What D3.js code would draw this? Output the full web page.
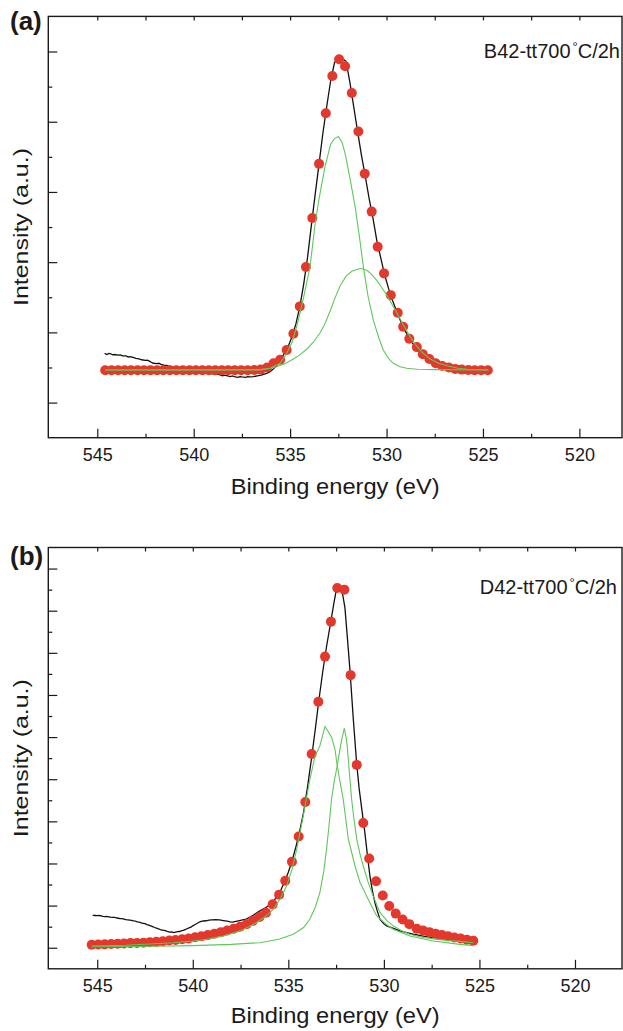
<!DOCTYPE html>
<html>
<head>
  <meta charset="utf-8">
  <title>O 1s XPS</title>
  <script src="https://cdn.jsdelivr.net/npm/d3@7"></script>
  <style>
    body { margin: 0; background: #fff; }
    svg text { font-family: "Liberation Sans", Arial, Helvetica, sans-serif; fill: #1a1a1a; }
    .axis path { display: none; }
    .axis line { stroke: #1a1a1a; stroke-width: 1.2; }
    .axis text { font-size: 18px; }
    .frame { fill: none; stroke: #1a1a1a; stroke-width: 1.4; }
    .exp { fill: none; stroke: #111; stroke-width: 1.3; }
    .comp { fill: none; stroke: #5fc85a; stroke-width: 1.1; }
    .fit { fill: #e3382b; }
  </style>
</head>
<body>
<svg id="chart" width="623" height="1031"></svg>
<script>
"use strict"

// ticks shared by both panels (binding energy, eV)
var xTicks = [545, 540, 535, 530, 525, 520];
var xMinor = [542.5, 537.5, 532.5, 527.5, 522.5];
var xTop = [545, 542.5, 540, 537.5, 535, 532.5, 530, 527.5, 525, 522.5, 520];

var yTicksA = [0, 1, 2, 3, 4, 5];
var yMinorA = [0.5, 1.5, 2.5, 3.5, 4.5];
var yTicksB = [0, 1, 2, 3, 4, 5, 6, 7, 8, 9];
var yMinorB = [0.5, 1.5, 2.5, 3.5, 4.5, 5.5, 6.5, 7.5, 8.5];

// sample labels, split round the raised degree sign
var labelA = ["B42-tt700", "°", "C/2h"];
var labelB = ["D42-tt700", "°", "C/2h"];

// (a) fitted envelope (red dots) [eV, intensity]
var fitA = [[544.59,0.46],[544.26,0.46],[543.92,0.46],[543.58,0.46],[543.25,0.46],[542.91,0.46],[542.58,0.46],
  [542.24,0.46],[541.90,0.46],[541.57,0.46],[541.23,0.46],[540.90,0.46],[540.56,0.46],[540.22,0.46],[539.89,0.46],
  [539.55,0.46],[539.22,0.46],[538.88,0.46],[538.54,0.46],[538.21,0.46],[537.87,0.46],[537.54,0.46],[537.20,0.46],
  [536.86,0.465],[536.53,0.47],[536.19,0.50],[535.86,0.56],[535.52,0.61],[535.18,0.75],[534.83,0.98],[534.50,1.37],
  [534.18,1.93],[533.85,2.63],[533.50,3.40],[533.15,4.12],[532.81,4.65],[532.46,4.89],[532.15,4.79],[531.80,4.41],
  [531.46,3.86],[531.13,3.26],[530.77,2.72],[530.46,2.22],[530.13,1.84],[529.78,1.53],[529.42,1.28],[529.14,1.08],
  [528.82,0.91],[528.43,0.79],[528.12,0.69],[527.78,0.62],[527.45,0.56],[527.11,0.52],[526.77,0.50],[526.44,0.48],
  [526.10,0.47],[525.76,0.465],[525.43,0.46],[525.09,0.46],[524.75,0.46]];

// (a) measured spectrum (black)
var expA = [[544.62,0.70],[544.5,0.685],[544.4,0.70],[544.3,0.695],[544.2,0.68],[544.1,0.685],[543.9,0.675],[543.8,0.68],
  [543.7,0.665],[543.5,0.665],[543.4,0.65],[543.3,0.655],[543.1,0.64],[543.0,0.63],[542.9,0.625],[542.8,0.62],[542.7,0.61],
  [542.5,0.60],[542.4,0.605],[542.3,0.59],[542.2,0.575],[542.1,0.56],[541.9,0.555],[541.8,0.56],[541.7,0.545],[541.5,0.53],
  [541.4,0.53],[541.3,0.52],[541.1,0.51],[541.0,0.50],[540.9,0.49],[540.7,0.485],[540.5,0.47],[540.3,0.465],[540.1,0.45],
  [540.0,0.455],[539.9,0.44],[539.7,0.43],[539.6,0.435],[539.5,0.42],[539.3,0.425],[539.2,0.41],[539.1,0.415],[538.9,0.40],
  [538.8,0.41],[538.7,0.40],[538.5,0.38],[538.4,0.39],[538.3,0.385],[538.1,0.37],[538.0,0.38],[537.9,0.37],[537.7,0.36],
  [537.6,0.37],[537.5,0.365],[537.3,0.36],[537.2,0.37],[537.1,0.365],[536.9,0.37],[536.8,0.375],[536.7,0.38],[536.5,0.39],
  [536.3,0.41],[536.1,0.43],[535.9,0.47],[535.7,0.53],[535.5,0.61],[535.3,0.70],[535.1,0.80],[534.9,0.94],[534.7,1.12],
  [534.5,1.36],[534.3,1.68],[534.1,2.06],[533.9,2.52],[533.7,2.97],[533.5,3.40],[533.3,3.84],[533.1,4.22],[532.9,4.58],
  [532.7,4.84],[532.5,4.93],[532.3,4.90],[532.1,4.86],[531.9,4.56],[531.7,4.21],[531.5,3.86],[531.3,3.52],[531.1,3.22],
  [530.9,2.90],[530.7,2.62],[530.5,2.30],[530.3,2.06],[530.1,1.82],[529.9,1.63],[529.7,1.46],[529.5,1.32],[529.3,1.18],
  [529.1,1.06],[528.9,0.95],[528.7,0.86],[528.5,0.80],[528.3,0.73],[528.1,0.67],[527.9,0.63],[527.7,0.59],[527.5,0.56],
  [527.3,0.54],[527.0,0.51],[526.7,0.49],[526.4,0.48],[526.0,0.47],[525.5,0.46],[525.0,0.46],[524.72,0.46]];

// (a) fitted components (green)
var peak1A = [[544.6,0.465],[540,0.465],[537,0.465],[536.5,0.47],[536.04,0.49],[535.52,0.56],[535.18,0.70],[534.9,0.86],
  [534.66,1.08],[534.3,1.50],[533.97,1.93],[533.7,2.55],[533.5,2.90],[533.2,3.35],[532.9,3.68],[532.7,3.76],[532.5,3.79],
  [532.3,3.70],[532.15,3.55],[531.9,3.20],[531.63,2.79],[531.4,2.35],[531.2,1.93],[530.95,1.50],[530.68,1.17],[530.4,0.92],
  [530.17,0.75],[529.9,0.63],[529.65,0.56],[529.3,0.51],[528.95,0.49],[528.4,0.475],[527.5,0.47],[524.72,0.465]];
var peak2A = [[544.6,0.465],[536.5,0.47],[536.0,0.49],[535.7,0.51],[535.3,0.55],[534.83,0.62],[534.5,0.68],[534.14,0.76],
  [533.8,0.86],[533.45,0.99],[533.2,1.12],[532.93,1.30],[532.7,1.47],[532.41,1.66],[532.1,1.80],[531.8,1.87],[531.5,1.90],
  [531.29,1.91],[531.0,1.88],[530.75,1.82],[530.51,1.74],[530.25,1.64],[529.99,1.53],[529.72,1.40],[529.47,1.28],
  [529.1,1.09],[528.78,0.94],[528.45,0.81],[528.17,0.72],[527.74,0.62],[527.3,0.56],[526.8,0.52],[526.3,0.49],
  [525.8,0.475],[524.72,0.465]];

// (b) fitted envelope (red dots)
var fitB = [[545.29,0.07],[544.95,0.075],[544.61,0.08],[544.27,0.09],[543.93,0.095],[543.60,0.10],[543.26,0.11],
  [542.92,0.115],[542.58,0.12],[542.25,0.13],[541.91,0.14],[541.57,0.155],[541.23,0.17],[540.90,0.185],[540.56,0.20],
  [540.22,0.22],[539.88,0.25],[539.55,0.27],[539.21,0.30],[538.87,0.33],[538.53,0.37],[538.20,0.41],[537.86,0.45],
  [537.52,0.50],[537.18,0.56],[536.85,0.64],[536.51,0.73],[536.17,0.83],[535.82,1.03],[535.48,1.26],[535.16,1.59],
  [534.81,2.04],[534.46,2.64],[534.11,3.46],[533.78,4.60],[533.43,5.84],[533.08,6.91],[532.77,7.74],[532.44,8.54],
  [532.07,8.50],[531.74,6.47],[531.42,4.34],[531.08,2.96],[530.77,2.12],[530.41,1.58],[530.06,1.24],[529.72,0.99],
  [529.38,0.81],[529.02,0.67],[528.67,0.56],[528.28,0.45],[527.95,0.41],[527.62,0.37],[527.29,0.33],[526.96,0.30],
  [526.64,0.27],[526.31,0.245],[525.98,0.22],[525.65,0.19],[525.32,0.165]];

// (b) measured spectrum (black)
var expB = [[545.24,0.77],[545.1,0.765],[545.0,0.76],[544.9,0.765],[544.8,0.755],[544.7,0.745],[544.6,0.74],[544.5,0.745],
  [544.4,0.735],[544.3,0.725],[544.2,0.72],[544.1,0.72],[544.0,0.71],[543.9,0.70],[543.8,0.69],[543.7,0.69],[543.6,0.68],
  [543.5,0.665],[543.4,0.66],[543.3,0.655],[543.2,0.65],[543.1,0.635],[543.0,0.63],[542.9,0.615],[542.8,0.61],[542.7,0.59],
  [542.6,0.58],[542.5,0.57],[542.4,0.55],[542.3,0.535],[542.2,0.52],[542.1,0.50],[542.0,0.48],[541.9,0.465],[541.8,0.45],
  [541.7,0.43],[541.6,0.42],[541.5,0.41],[541.4,0.40],[541.3,0.38],[541.2,0.37],[541.1,0.375],[541.0,0.36],[540.9,0.37],
  [540.8,0.38],[540.7,0.385],[540.6,0.40],[540.5,0.41],[540.4,0.43],[540.3,0.45],[540.2,0.47],[540.1,0.49],[540.0,0.52],
  [539.9,0.545],[539.8,0.57],[539.7,0.60],[539.6,0.62],[539.45,0.635],[539.3,0.64],[539.15,0.655],[539.0,0.66],
  [538.8,0.665],[538.6,0.66],[538.4,0.645],[538.2,0.63],[538.05,0.615],[537.9,0.61],[537.75,0.625],[537.6,0.64],
  [537.4,0.66],[537.2,0.68],[537.0,0.73],[536.8,0.78],[536.65,0.83],[536.5,0.87],[536.35,0.91],[536.2,0.95],[536.0,1.01],
  [535.8,1.09],[535.6,1.21],[535.4,1.36],[535.2,1.56],[535.0,1.79],[534.8,2.07],[534.6,2.40],[534.4,2.78],[534.2,3.22],
  [534.0,3.80],[533.8,4.45],[533.6,5.15],[533.4,5.88],[533.2,6.55],[533.0,7.15],[532.8,7.68],[532.6,8.22],[532.45,8.58],
  [532.3,8.58],[532.2,8.50],[532.04,8.08],[531.92,7.41],[531.78,6.62],[531.6,5.43],[531.43,4.40],[531.3,3.80],[531.16,3.30],
  [531.0,2.75],[530.85,2.15],[530.73,1.70],[530.6,1.35],[530.47,1.07],[530.33,0.85],[530.2,0.67],[530.0,0.57],
  [529.85,0.52],[529.5,0.46],[529.16,0.40],[528.8,0.36],[528.46,0.32],[528.0,0.28],[527.42,0.24],[527.0,0.225],
  [526.5,0.21],[526.02,0.20],[525.7,0.175],[525.34,0.15]];

// (b) fitted components (green)
var peak1B = [[545.29,0.04],[543.5,0.06],[542.77,0.076],[541.02,0.12],[540.0,0.16],[539.27,0.20],[538.4,0.28],
  [537.53,0.40],[537.1,0.49],[536.66,0.60],[536.2,0.74],[535.79,0.91],[535.4,1.18],[535.09,1.47],[534.8,1.87],
  [534.56,2.34],[534.22,3.13],[533.87,4.0],[533.6,4.55],[533.35,4.79],[533.2,5.05],[533.08,5.25],[532.9,5.12],
  [532.73,4.99],[532.56,4.71],[532.44,4.32],[532.3,3.95],[532.13,3.53],[531.86,2.58],[531.51,1.94],[531.25,1.55],
  [530.73,1.07],[530.38,0.76],[529.9,0.56],[529.51,0.44],[528.64,0.28],[527.42,0.16],[526.02,0.08],[525.32,0.05]];
var peak2B = [[545.29,0.025],[542,0.035],[540,0.05],[538,0.08],[536.49,0.12],[535.5,0.20],[534.74,0.32],[534.2,0.48],
  [533.87,0.68],[533.6,0.95],[533.35,1.31],[533.15,1.80],[533.0,2.34],[532.87,2.90],[532.74,3.53],[532.6,3.95],
  [532.44,4.32],[532.30,4.71],[532.2,4.95],[532.07,5.21],[531.98,5.0],[531.92,4.79],[531.82,4.24],[531.69,3.53],
  [531.55,3.0],[531.42,2.58],[531.25,2.22],[531.08,1.94],[530.8,1.52],[530.56,1.23],[530.21,0.84],[529.85,0.65],
  [529.51,0.52],[529.1,0.41],[528.64,0.32],[528.0,0.25],[527.42,0.21],[526.7,0.17],[526.02,0.15],[525.32,0.12]];

var svg = d3.select('#chart');
var esq = 48.3, dir = 622;

function desenhaPainel(p) {
  var x = d3.scaleLinear().domain(p.xDomain).range([esq, dir]);
  var y = d3.scaleLinear().domain(p.yDomain).range([p.bottom, p.top]);
  var g = svg.append('g');

  // ticks (all pointing inside the frame)
  g.append('g').attr('class', 'axis').attr('transform', 'translate(0,' + p.bottom + ')')
    .call(d3.axisBottom(x).tickValues(xTicks).tickSizeInner(-9).tickSizeOuter(0).tickPadding(10.5).tickFormat(d3.format('d')));
  g.append('g').attr('class', 'axis').attr('transform', 'translate(0,' + p.bottom + ')')
    .call(d3.axisBottom(x).tickValues(xMinor).tickSizeInner(-4).tickSizeOuter(0).tickFormat(''));
  g.append('g').attr('class', 'axis').attr('transform', 'translate(0,' + p.top + ')')
    .call(d3.axisTop(x).tickValues(xTop).tickSizeInner(-4).tickSizeOuter(0).tickFormat(''));
  g.append('g').attr('class', 'axis').attr('transform', 'translate(' + esq + ',0)')
    .call(d3.axisLeft(y).tickValues(p.yTicks).tickSizeInner(-9).tickSizeOuter(0).tickFormat(''));
  g.append('g').attr('class', 'axis').attr('transform', 'translate(' + esq + ',0)')
    .call(d3.axisLeft(y).tickValues(p.yMinor).tickSizeInner(-4).tickSizeOuter(0).tickFormat(''));

  g.append('rect').attr('class', 'frame')
    .attr('x', esq).attr('y', p.top).attr('width', dir - esq).attr('height', p.bottom - p.top);

  var linha = d3.line().x(function (d) { return x(d[0]); }).y(function (d) { return y(d[1]); });

  g.append('path').datum(p.exp).attr('class', 'exp').attr('d', linha);
  g.selectAll('circle.fit').data(p.fit).enter().append('circle').attr('class', 'fit')
    .attr('cx', function (d) { return x(d[0]); })
    .attr('cy', function (d) { return y(d[1]); })
    .attr('r', 5);
  p.comps.forEach(function (c) {
    g.append('path').datum(c).attr('class', 'comp').attr('d', linha);
  });

  // sample label with raised degree sign
  var t = g.append('text').attr('x', p.labelEnd).attr('y', p.labelY).attr('text-anchor', 'end')
    .attr('font-size', 20);
  t.append('tspan').text(p.label[0]);
  t.append('tspan').attr('font-size', 13).attr('dx', 2).attr('dy', -7).text(p.label[1]);
  t.append('tspan').attr('dy', 7).text(p.label[2]);

  g.append('text').attr('x', 10).attr('y', p.tagY).attr('font-size', 26).attr('font-weight', 'bold').text(p.tag);
  g.append('text').attr('x', (esq + dir) / 2).attr('y', p.titleY).attr('text-anchor', 'middle')
    .attr('font-size', 21.5).attr('textLength', 209).attr('lengthAdjust', 'spacingAndGlyphs')
    .text('Binding energy (eV)');
  g.append('text').attr('transform', 'translate(28,' + ((p.top + p.bottom) / 2) + ') rotate(-90)')
    .attr('text-anchor', 'middle').attr('font-size', 20)
    .attr('textLength', 158).attr('lengthAdjust', 'spacingAndGlyphs')
    .text('Intensity (a.u.)');
}

desenhaPainel({
  xDomain: [547.54, 517.79], yDomain: [-0.5, 5.5], top: 16.4, bottom: 437.7,
  yTicks: yTicksA, yMinor: yMinorA,
  fit: fitA, exp: expA, comps: [peak1A, peak2A],
  label: labelA, labelEnd: 620, labelY: 58,
  tag: '(a)', tagY: 30, titleY: 494
});

desenhaPainel({
  xDomain: [547.56, 517.54], yDomain: [-0.5, 9.5], top: 547.5, bottom: 968.8,
  yTicks: yTicksB, yMinor: yMinorB,
  fit: fitB, exp: expB, comps: [peak1B, peak2B],
  label: labelB, labelEnd: 617, labelY: 594,
  tag: '(b)', tagY: 565, titleY: 1023
});
</script>
</body>
</html>
